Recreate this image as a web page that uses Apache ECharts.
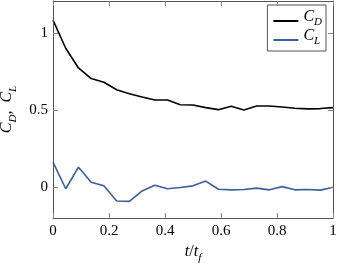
<!DOCTYPE html>
<html>
<head>
<meta charset="utf-8">
<script src="https://cdn.jsdelivr.net/npm/echarts@6/dist/echarts.min.js"></script>
<style>
  html, body { margin: 0; padding: 0; background: #fff; }
  #chart { width: 343px; height: 267px; }
</style>
</head>
<body>
<div id="chart"></div>
<script>
// t/t_f sample points (22 equal steps)
const tValues = [0, 1, 2, 3, 4, 5, 6, 7, 8, 9, 10, 11, 12, 13, 14, 15, 16, 17, 18, 19, 20, 21, 22].map((k) => k / 22);

const cdValues = [1.086, 0.903, 0.775, 0.706, 0.682, 0.633, 0.607, 0.586, 0.567, 0.567, 0.536, 0.534,
  0.517, 0.504, 0.526, 0.502, 0.528, 0.528, 0.521, 0.513, 0.509, 0.511, 0.517];

const clValues = [0.163, -0.010, 0.130, 0.032, 0.009, -0.090, -0.092, -0.024, 0.013, -0.010, -0.002, 0.009,
  0.040, -0.013, -0.017, -0.015, -0.006, -0.017, 0.004, -0.017, -0.015, -0.019, 0.000];

const yTicks = [0, 0.5, 1];

const FONT = "'Liberation Serif', 'DejaVu Serif', serif";
const AXIS_COLOR = "#555";
const TICK_COLOR = "#888";

const pairs = (ys) => tValues.map((t, i) => [t, ys[i]]);

const rich = {
  m: { fontFamily: FONT, fontStyle: "italic", fontSize: 16, color: "#000", verticalAlign: "bottom", padding: [0, 0, 4, 0] },
  s: { fontFamily: FONT, fontStyle: "italic", fontSize: 11, color: "#000", verticalAlign: "bottom" },
  n: { fontFamily: FONT, fontSize: 16, color: "#000", verticalAlign: "bottom", padding: [0, 0, 4, 0] },
};

const legendRich = {
  m: { fontFamily: FONT, fontStyle: "italic", fontSize: 16, lineHeight: 14, color: "#000", verticalAlign: "bottom", padding: [0, 0, 3, 0] },
  s: { fontFamily: FONT, fontStyle: "italic", fontSize: 11, lineHeight: 14, color: "#000", verticalAlign: "bottom" },
};

const chart = echarts.init(document.getElementById("chart"));

const tickStyle = { show: true, inside: true, length: 5, interval: 0, lineStyle: { color: TICK_COLOR, width: 1 } };
const axLine = { show: true, onZero: false, lineStyle: { color: AXIS_COLOR, width: 1 } };

chart.setOption({
  animation: false,
  backgroundColor: "#fff",
  textStyle: { fontFamily: FONT },
  grid: {
    left: 53, right: 10, top: 1, bottom: 49,
    outerBoundsMode: "none",
    containLabel: false,
    show: false,
  },
  legend: {
    right: 17, top: 5,
    orient: "vertical",
    icon: "rect",
    itemWidth: 25, itemHeight: 2,
    itemGap: 0,
    padding: [4, 4, 4, 6],
    borderColor: AXIS_COLOR, borderWidth: 1,
    backgroundColor: "#fff",
    formatter: (name) => name === "CD" ? "{m|C}{s|D}" : "{m|C}{s|L}",
    textStyle: { rich: legendRich },
  },
  xAxis: [
    {
      type: "value", min: 0, max: 1, interval: 0.2, position: "bottom",
      axisLine: axLine, splitLine: { show: false },
      axisTick: tickStyle,
      axisLabel: { fontFamily: FONT, fontSize: 15, color: "#000", margin: 6 },
      name: "{m|t}{n|/}{m|t}{s|f}",
      nameLocation: "middle",
      nameGap: 24,
      nameTextStyle: { rich },
      z: 10,
    },
    {
      type: "value", min: 0, max: 1, interval: 0.2, position: "top",
      axisLine: axLine, splitLine: { show: false },
      axisTick: tickStyle,
      axisLabel: { show: false },
      z: 10,
    },
  ],
  yAxis: [
    {
      type: "value", min: -0.2, max: 1.21, position: "left",
      axisLine: axLine, splitLine: { show: false },
      axisTick: { ...tickStyle, customValues: yTicks },
      axisLabel: { customValues: yTicks, fontFamily: FONT, fontSize: 15, color: "#000", margin: 5 },
      name: "{m|C}{s|D}{n|,  }{m|C}{s|L}",
      nameLocation: "middle",
      nameGap: 30,
      nameRotate: 90,
      nameTextStyle: { rich },
      z: 10,
    },
    {
      type: "value", min: -0.2, max: 1.21, position: "right",
      axisLine: axLine, splitLine: { show: false },
      axisTick: { ...tickStyle, customValues: yTicks },
      axisLabel: { show: false, customValues: yTicks },
      z: 10,
    },
  ],
  series: [
    {
      name: "CD", type: "line", data: pairs(cdValues),
      symbol: "none", lineStyle: { color: "#000", width: 1.6 }, itemStyle: { color: "#000" },
    },
    {
      name: "CL", type: "line", data: pairs(clValues),
      symbol: "none", lineStyle: { color: "#3a5f9e", width: 1.6 }, itemStyle: { color: "#3a5f9e" },
    },
  ],
});
</script>
</body>
</html>
